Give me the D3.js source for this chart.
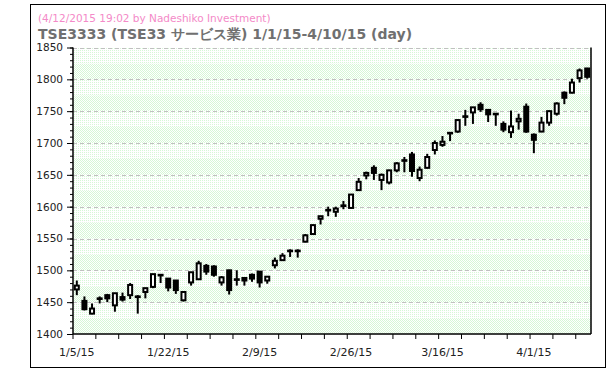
<!DOCTYPE html>
<html>
<head>
<meta charset="utf-8">
<script src="https://cdn.jsdelivr.net/npm/d3@7"></script>
<style>
  body { margin: 0; background: #fff; }
  text { font-family: "DejaVu Sans", Verdana, sans-serif; }
</style>
</head>
<body>
<div id="chart"></div>
<script>
// trading days 1/5/15 - 4/10/15
var dates = ["1/5","1/6","1/7","1/8","1/9","1/13","1/14","1/15","1/16","1/19",
  "1/20","1/21","1/22","1/23","1/26","1/27","1/28","1/29","1/30","2/2",
  "2/3","2/4","2/5","2/6","2/9","2/10","2/12","2/13","2/16","2/17",
  "2/18","2/19","2/20","2/23","2/24","2/25","2/26","2/27","3/2","3/3",
  "3/4","3/5","3/6","3/9","3/10","3/11","3/12","3/13","3/16","3/17",
  "3/18","3/19","3/20","3/23","3/24","3/25","3/26","3/27","3/30","3/31",
  "4/1","4/2","4/3","4/6","4/7","4/8","4/9","4/10"];
var opens = [1470,1452,1432,1455,1461,1445,1458,1461,1458,1466,
  1474,1492,1487,1484,1453,1481,1486,1507,1506,1481,
  1500,1485,1488,1493,1498,1484,1508,1516,1530,1530,
  1545,1557,1581,1594,1592,1602,1598,1626,1649,1661,
  1642,1638,1657,1672,1682,1645,1661,1689,1697,1716,
  1718,1741,1748,1760,1752,1746,1730,1717,1734,1757,
  1713,1718,1732,1746,1779,1779,1802,1817];
var highs = [1484,1459,1448,1459,1463,1464,1465,1480,1461,1472,
  1494,1494,1487,1484,1466,1497,1515,1510,1508,1491,
  1501,1500,1489,1495,1499,1490,1520,1527,1533,1533,
  1557,1572,1585,1600,1600,1609,1619,1645,1655,1665,
  1652,1658,1670,1678,1686,1663,1683,1704,1711,1716,
  1737,1752,1756,1764,1753,1747,1734,1751,1746,1762,
  1715,1741,1751,1764,1781,1801,1817,1818];
var lows = [1461,1437,1431,1448,1450,1435,1451,1455,1432,1456,
  1472,1480,1467,1463,1451,1476,1485,1493,1490,1476,
  1462,1476,1476,1482,1473,1479,1503,1515,1521,1520,
  1544,1556,1572,1585,1584,1596,1597,1625,1643,1642,
  1626,1635,1654,1654,1647,1640,1660,1682,1694,1703,
  1716,1727,1730,1749,1733,1727,1717,1708,1721,1716,
  1684,1717,1727,1743,1761,1778,1795,1801];
var closes = [1476,1439,1440,1456,1456,1464,1454,1477,1459,1472,
  1494,1493,1473,1469,1466,1497,1511,1498,1493,1489,
  1469,1486,1484,1487,1481,1490,1515,1523,1531,1531,
  1555,1571,1585,1595,1597,1601,1619,1639,1653,1653,
  1650,1657,1668,1673,1656,1658,1678,1700,1702,1715,
  1736,1742,1756,1753,1745,1745,1721,1726,1738,1718,
  1705,1732,1750,1762,1771,1795,1814,1804];
var yTicks = [1400,1450,1500,1550,1600,1650,1700,1750,1800,1850];

var W = 610, H = 371;
var plotL = 73, plotR = 591, plotT = 47.5, plotB = 334;

var svg = d3.select("#chart").append("svg")
  .attr("width", W).attr("height", H);

// dotted fills
var defs = svg.append("defs");
var pa = defs.append("pattern").attr("id", "dotA")
  .attr("width", 2).attr("height", 2).attr("patternUnits", "userSpaceOnUse");
pa.append("rect").attr("width", 2).attr("height", 2).attr("fill", "#fff");
pa.append("rect").attr("width", 1).attr("height", 1).attr("fill", "#d6f7d6");
pa.append("rect").attr("x", 1).attr("y", 1).attr("width", 1).attr("height", 1).attr("fill", "#d6f7d6");
var pb = defs.append("pattern").attr("id", "dotB")
  .attr("width", 2).attr("height", 2).attr("patternUnits", "userSpaceOnUse");
pb.append("rect").attr("width", 2).attr("height", 2).attr("fill", "#fff");
pb.append("rect").attr("width", 1).attr("height", 1).attr("fill", "#d6f7d6");

// outer frame
svg.append("rect")
  .attr("x", 30.5).attr("y", 4.5)
  .attr("width", 575).attr("height", 363)
  .attr("fill", "none").attr("stroke", "#000");

// title
svg.append("text")
  .attr("x", 38).attr("y", 22)
  .attr("font-size", "10.5px").attr("fill", "#f48ac8")
  .text("(4/12/2015 19:02 by Nadeshiko Investment)");
svg.append("text")
  .attr("x", 38).attr("y", 39)
  .attr("font-size", "14px").attr("font-weight", "bold").attr("fill", "#707070")
  .text("TSE3333 (TSE33 サービス業) 1/1/15-4/10/15 (day)");

var x = d3.scaleBand().domain(dates).range([plotL, plotR]);
var y = d3.scaleLinear().domain([1400, 1850]).range([plotB, plotT]);
var bw = x.bandwidth();

// background bands of 25
var bands = d3.range(1400, 1850, 25);
svg.append("g").selectAll("rect").data(bands).enter().append("rect")
  .attr("x", plotL).attr("width", plotR - plotL)
  .attr("y", function(d) { return y(d + 25); })
  .attr("height", function(d) { return y(d) - y(d + 25); })
  .attr("fill", function(d, i) { return i % 2 ? "url(#dotB)" : "url(#dotA)"; });

// grid
svg.append("g").selectAll("line").data(yTicks.slice(1)).enter().append("line")
  .attr("x1", plotL).attr("x2", plotR)
  .attr("y1", function(d) { return Math.round(y(d)) + 0.5; })
  .attr("y2", function(d) { return Math.round(y(d)) + 0.5; })
  .attr("stroke", "#c0c0c0").attr("stroke-dasharray", "4,3");

// y axis
var yAxis = svg.append("g")
  .attr("transform", "translate(" + plotL + ",0)")
  .call(d3.axisLeft(y).tickValues(yTicks).tickSize(6).tickPadding(4).tickFormat(d3.format("d")));
svg.append("g")
  .attr("transform", "translate(" + plotL + ",0)")
  .call(d3.axisLeft(y).tickValues(d3.range(1400, 1851, 10)).tickSize(3).tickFormat(""));
svg.selectAll(".domain").remove();
svg.selectAll(".tick line").attr("stroke", "#000");
yAxis.selectAll("text").attr("font-size", "10.5px").attr("fill", "#222")
  .attr("font-family", "DejaVu Sans");

svg.append("line").attr("x1", plotL).attr("x2", plotL).attr("y1", plotT).attr("y2", plotB)
  .attr("stroke", "#000").attr("stroke-width", 1.5);
svg.append("line").attr("x1", plotR).attr("x2", plotR).attr("y1", plotT).attr("y2", plotB)
  .attr("stroke", "#000").attr("stroke-width", 1.5);

// x axis
var xg = svg.append("g").attr("transform", "translate(0," + plotB + ")");
xg.append("line").attr("x1", plotL).attr("x2", plotR).attr("stroke", "#000").attr("stroke-width", 1.5);
xg.selectAll(".xt").data(dates.filter(function(d, i) { return i % 3 == 0; })).enter().append("line")
  .attr("x1", function(d) { return x(d); }).attr("x2", function(d) { return x(d); })
  .attr("y1", 0).attr("y2", 5).attr("stroke", "#000");
xg.selectAll(".xl").data(dates.filter(function(d, i) { return i % 12 == 0; })).enter().append("text")
  .attr("x", function(d) { return x(d) + bw / 2; })
  .attr("y", 22)
  .attr("text-anchor", "middle")
  .attr("font-size", "11px").attr("fill", "#222")
  .text(function(d) { return d + "/15"; });

// candles
var idx = d3.range(dates.length);
var cg = svg.append("g");
cg.selectAll(".wick").data(idx).enter().append("line")
  .attr("x1", function(i) { return x(dates[i]) + bw / 2; })
  .attr("x2", function(i) { return x(dates[i]) + bw / 2; })
  .attr("y1", function(i) { return y(highs[i]); })
  .attr("y2", function(i) { return y(lows[i]); })
  .attr("stroke", "#000").attr("stroke-width", 2);
cg.selectAll(".body").data(idx).enter().append("rect")
  .attr("x", function(i) { return x(dates[i]) + bw / 2 - 2; })
  .attr("width", 4)
  .attr("y", function(i) { return y(Math.max(opens[i], closes[i])); })
  .attr("height", function(i) { return Math.max(0.5, Math.abs(y(opens[i]) - y(closes[i]))); })
  .attr("fill", function(i) { return closes[i] >= opens[i] ? "#fff" : "#000"; })
  .attr("stroke", "#000").attr("stroke-width", 2);
</script>
</body>
</html>
